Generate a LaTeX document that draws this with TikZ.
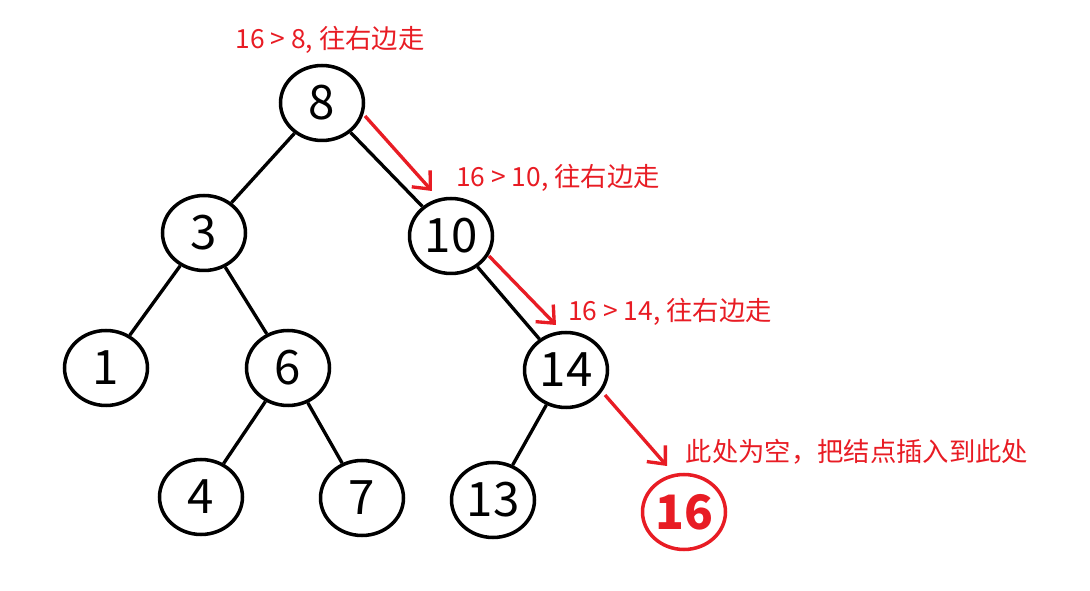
\documentclass[tikz,border=0pt]{standalone}
\usepackage{fontspec}
\setmainfont{Noto Sans CJK SC}
\usetikzlibrary{shapes.geometric,arrows.meta}
\definecolor{hired}{RGB}{232,28,36}
\tikzset{
	treenode/.style={draw, ellipse, line width=2pt, minimum width=1.66cm, minimum height=1.5cm, inner sep=0pt, font=\fontsize{27}{27}\selectfont},
	treeedge/.style={line width=1.9pt},
	walk/.style={hired, line width=1.9pt, -{Straight Barb[length=8pt,width=14pt]}},
	note/.style={hired, font=\fontsize{15}{17}\selectfont}
}
\begin{document}
\begin{tikzpicture}[x=0.02cm, y=-0.02cm]
	\useasboundingbox (0,0) rectangle (1090,591);
	%Tree nodes
	\node[treenode] (n8) at (322,103) {8};
	\node[treenode] (n3) at (204,233) {3};
	\node[treenode] (n10) at (451,236) {10};
	\node[treenode] (n1) at (106,368) {1};
	\node[treenode] (n6) at (288,368) {6};
	\node[treenode] (n14) at (566,370) {14};
	\node[treenode] (n4) at (201,497) {4};
	\node[treenode] (n7) at (362,498) {7};
	\node[treenode] (n13) at (493,500) {13};
	\node[treenode, hired, text=hired, font=\fontsize{27}{27}\selectfont\bfseries] (n16) at (684,512) {16};
	
	%Edges
	\draw[treeedge] (n8) -- (n3);
	\draw[treeedge] (n8) -- (n10);
	\draw[treeedge] (n3) -- (n1);
	\draw[treeedge] (n3) -- (n6);
	\draw[treeedge] (n6) -- (n4);
	\draw[treeedge] (n6) -- (n7);
	\draw[treeedge] (n10) -- (n14);
	\draw[treeedge] (n14) -- (n13);
	
	%Search path
	\coordinate (a1) at (365,116);
	\coordinate (b1) at (432,191);
	\coordinate (a2) at (489,256);
	\coordinate (b2) at (556,325);
	\coordinate (a3) at (605,395);
	\coordinate (b3) at (667,466);
	\draw[walk] (a1) -- (b1);
	\draw[walk] (a2) -- (b2);
	\draw[walk] (a3) -- (b3);
	
	%Notes
	\node[note] (t1) at (330,40) {16 > 8, 往右边走};
	\node[note] (t2) at (558,178) {16 > 10, 往右边走};
	\node[note] (t3) at (670,312) {16 > 14, 往右边走};
	\node[note] (t4) at (857,452) {此处为空，把结点插入到此处};
\end{tikzpicture}
\end{document}
